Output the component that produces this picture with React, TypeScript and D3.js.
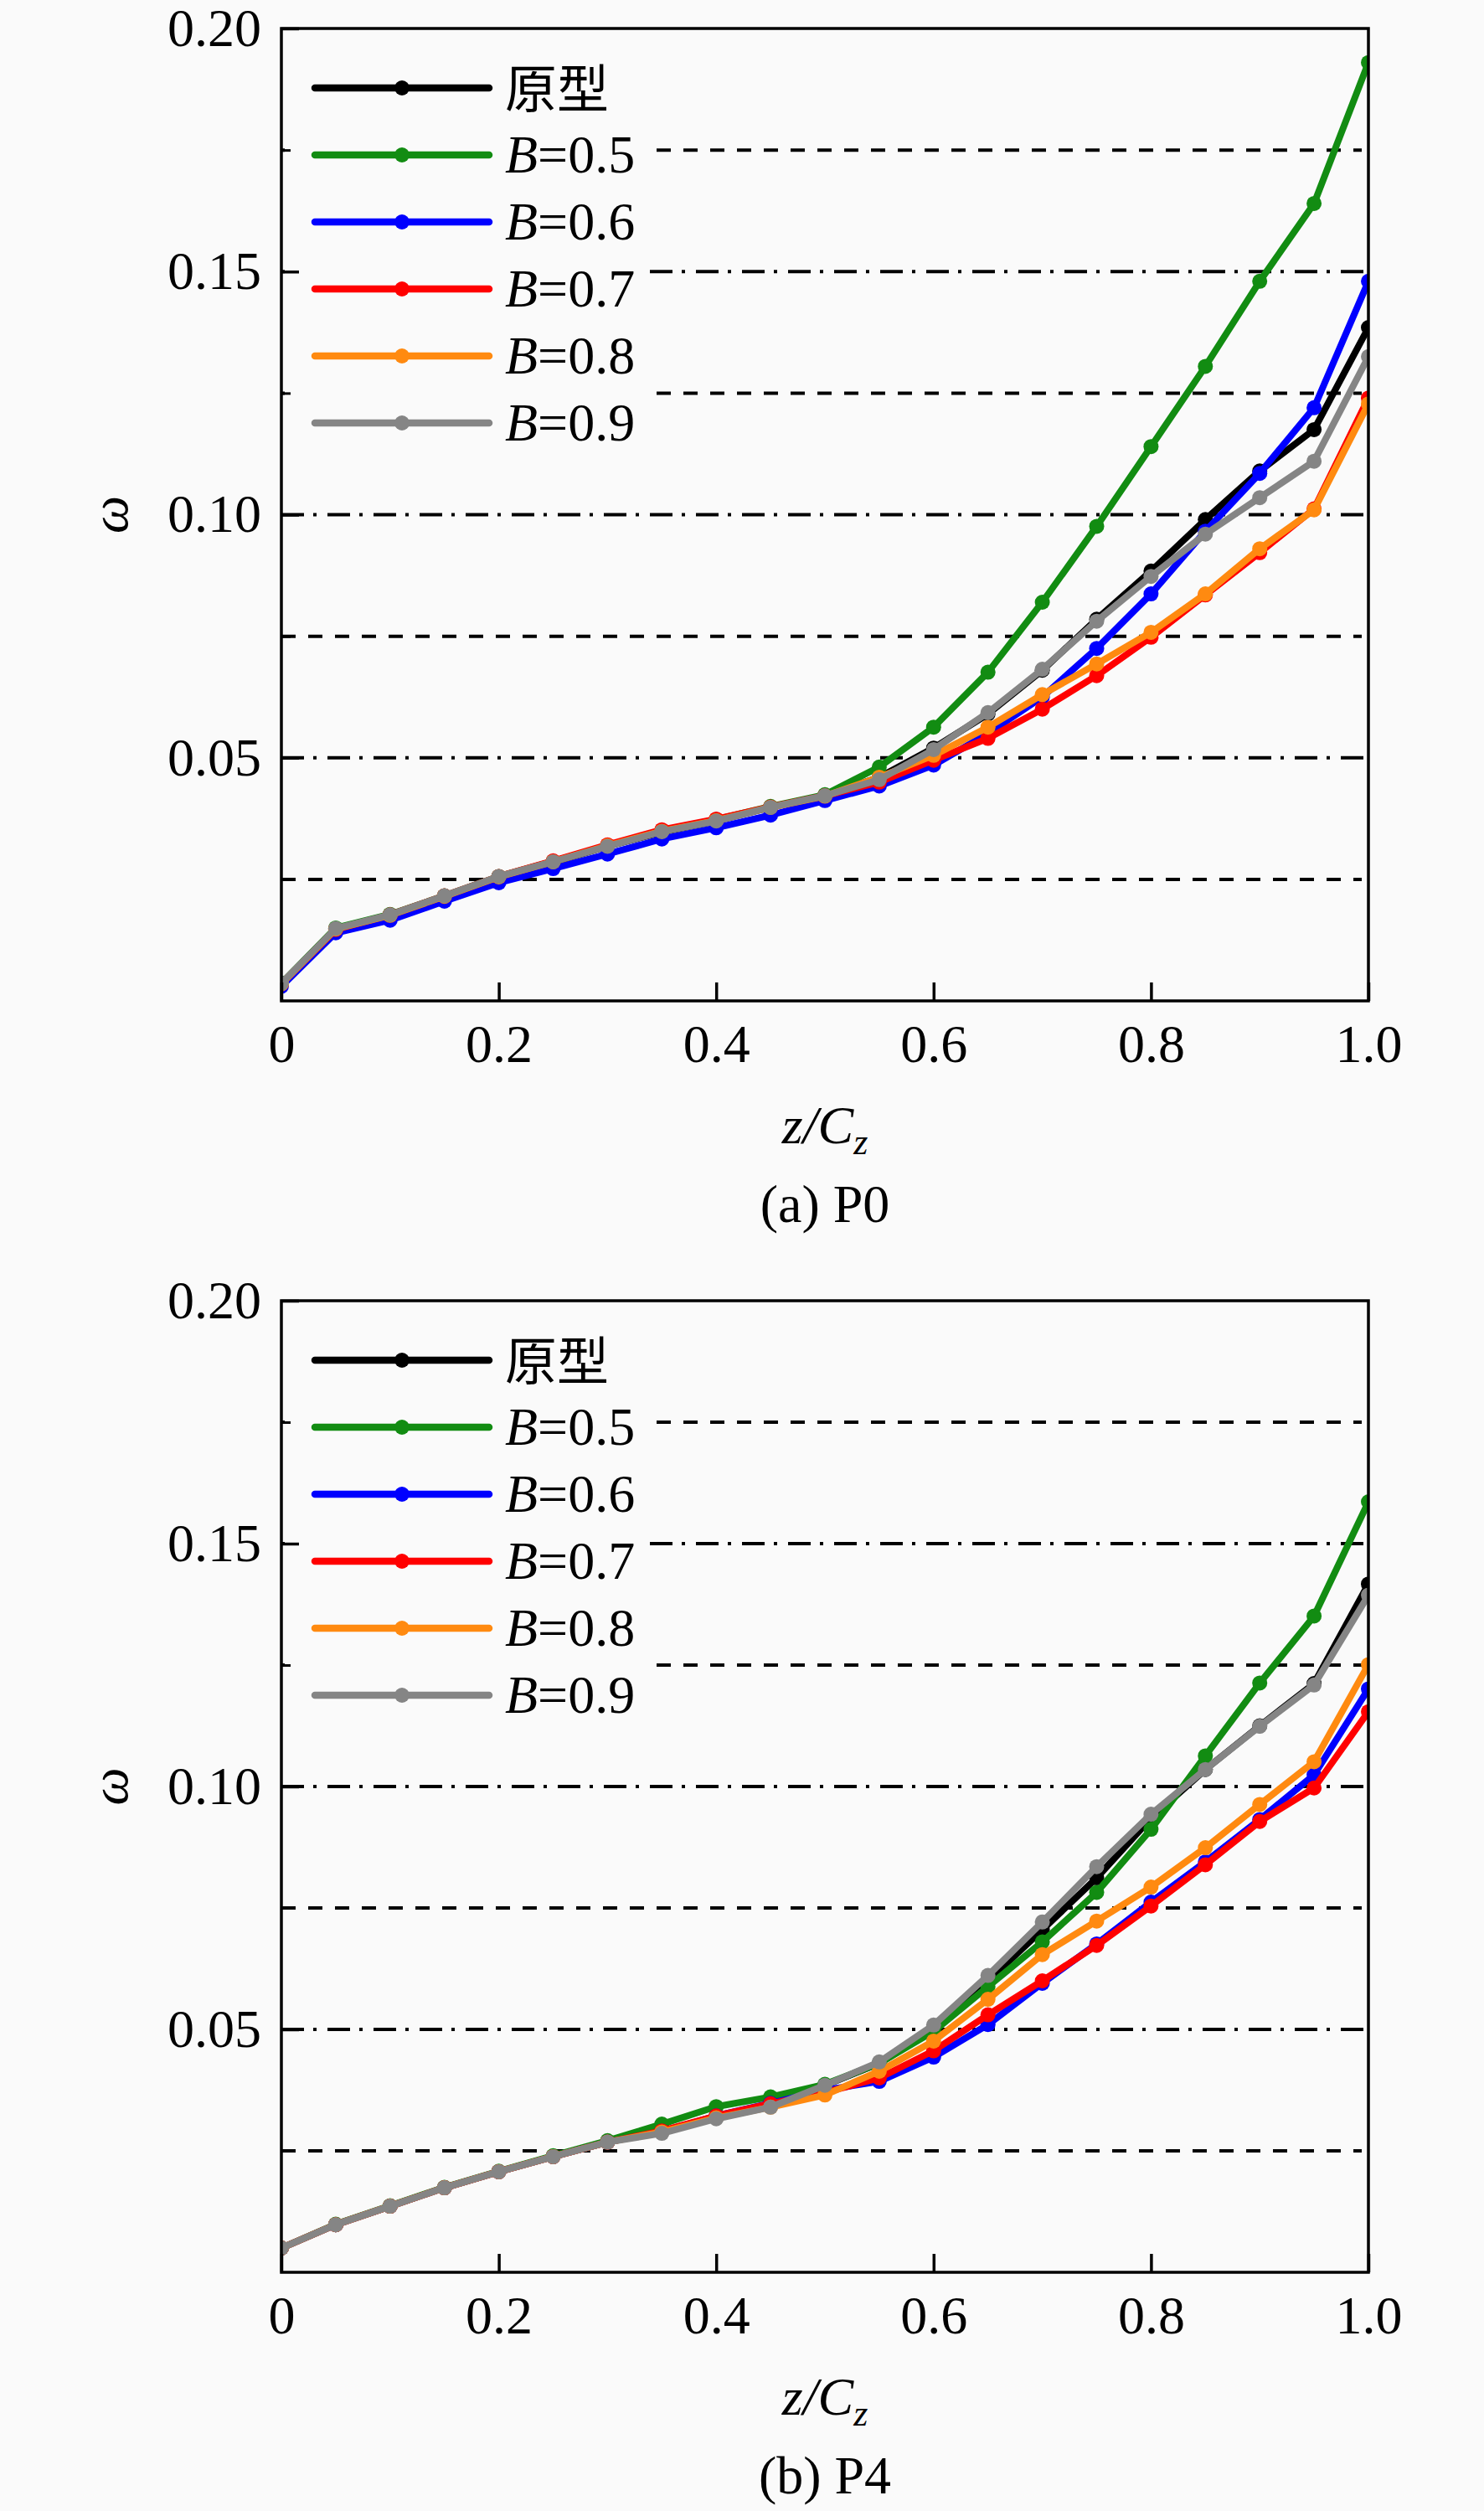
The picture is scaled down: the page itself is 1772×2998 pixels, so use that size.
import { useEffect, useRef } from 'react';
import * as d3 from 'd3';

// z/Cz positions (shared by every series)
const zc = [0, 0.05, 0.1, 0.15, 0.2, 0.25, 0.3, 0.35, 0.4, 0.45, 0.5, 0.55, 0.6, 0.65, 0.7, 0.75, 0.8, 0.85, 0.9, 0.95, 1.0];

const seriesNames = ['原型', 'B=0.5', 'B=0.6', 'B=0.7', 'B=0.8', 'B=0.9'];
const seriesColors = ['#000000', '#128c12', '#0000ff', '#ff0000', '#ff8a10', '#858585'];

// (a) P0
const p0Proto = [0.0036, 0.0148, 0.0177, 0.0215, 0.0255, 0.0285, 0.0318, 0.0347, 0.0370, 0.0398, 0.0422, 0.0460, 0.0520, 0.0590, 0.0680, 0.0785, 0.0884, 0.0990, 0.1090, 0.1175, 0.1385];
const p0B05 = [0.0036, 0.0150, 0.0178, 0.0216, 0.0256, 0.0287, 0.0320, 0.0350, 0.0373, 0.0400, 0.0424, 0.0481, 0.0563, 0.0676, 0.0820, 0.0976, 0.1140, 0.1305, 0.1480, 0.1640, 0.1930];
const p0B06 = [0.0030, 0.0140, 0.0166, 0.0205, 0.0243, 0.0272, 0.0302, 0.0333, 0.0356, 0.0382, 0.0412, 0.0442, 0.0485, 0.0550, 0.0625, 0.0725, 0.0837, 0.0966, 0.1085, 0.1220, 0.1480];
const p0B07 = [0.0035, 0.0147, 0.0177, 0.0216, 0.0256, 0.0288, 0.0321, 0.0352, 0.0374, 0.0399, 0.0422, 0.0450, 0.0495, 0.0540, 0.0600, 0.0669, 0.0748, 0.0835, 0.0922, 0.1012, 0.1240];
const p0B08 = [0.0035, 0.0148, 0.0176, 0.0215, 0.0255, 0.0286, 0.0319, 0.0349, 0.0371, 0.0398, 0.0421, 0.0460, 0.0505, 0.0563, 0.0630, 0.0693, 0.0758, 0.0837, 0.0930, 0.1010, 0.1228];
const p0B09 = [0.0036, 0.0149, 0.0177, 0.0216, 0.0256, 0.0286, 0.0318, 0.0348, 0.0370, 0.0398, 0.0422, 0.0455, 0.0517, 0.0593, 0.0682, 0.0781, 0.0873, 0.0960, 0.1035, 0.1110, 0.1325];

// (b) P4
const p4Proto = [0.0050, 0.0098, 0.0136, 0.0174, 0.0207, 0.0238, 0.0268, 0.0290, 0.0320, 0.0345, 0.0385, 0.0430, 0.0500, 0.0600, 0.0705, 0.0812, 0.0935, 0.1035, 0.1125, 0.1212, 0.1417];
const p4B05 = [0.0050, 0.0099, 0.0137, 0.0175, 0.0208, 0.0240, 0.0271, 0.0305, 0.0341, 0.0361, 0.0387, 0.0430, 0.0496, 0.0588, 0.0680, 0.0782, 0.0912, 0.1063, 0.1213, 0.1351, 0.1586];
const p4B06 = [0.0050, 0.0098, 0.0136, 0.0174, 0.0207, 0.0238, 0.0268, 0.0290, 0.0322, 0.0348, 0.0375, 0.0393, 0.0443, 0.0510, 0.0595, 0.0676, 0.0762, 0.0845, 0.0932, 0.1024, 0.1201];
const p4B07 = [0.0050, 0.0098, 0.0136, 0.0174, 0.0207, 0.0238, 0.0268, 0.0291, 0.0322, 0.0347, 0.0370, 0.0400, 0.0456, 0.0530, 0.0600, 0.0673, 0.0754, 0.0839, 0.0928, 0.0997, 0.1154];
const p4B08 = [0.0050, 0.0098, 0.0136, 0.0174, 0.0207, 0.0238, 0.0268, 0.0289, 0.0318, 0.0340, 0.0365, 0.0414, 0.0476, 0.0562, 0.0654, 0.0723, 0.0793, 0.0874, 0.0963, 0.1051, 0.1251];
const p4B09 = [0.0050, 0.0098, 0.0136, 0.0174, 0.0207, 0.0238, 0.0268, 0.0286, 0.0316, 0.0340, 0.0385, 0.0433, 0.0509, 0.0611, 0.0721, 0.0835, 0.0943, 0.1035, 0.1124, 0.1209, 0.1394];

const xTicks = [0, 0.2, 0.4, 0.6, 0.8, 1.0];
const yMajorTicks = [0.05, 0.1, 0.15, 0.2];
const yMinorTicks = [0.025, 0.075, 0.125, 0.175];

const panels = [
  { id: 'p0', caption: '(a) P0', top: 34, bottom: 1195, series: [p0Proto, p0B05, p0B06, p0B07, p0B08, p0B09] },
  { id: 'p4', caption: '(b) P4', top: 1553, bottom: 2713, series: [p4Proto, p4B05, p4B06, p4B07, p4B08, p4B09] },
];

const W = 1772;
const H = 2998;
const LEFT = 336;
const RIGHT = 1634;
const FONT = '"Liberation Serif", "Times New Roman", "Noto Sans CJK SC", serif';
const BG = '#fafafa';

export default function App() {
  const svgRef = useRef<SVGSVGElement>(null);

  useEffect(() => {
    if (!svgRef.current) return;
    const svg = d3.select(svgRef.current);
    svg.selectAll('*').remove();

    svg.append('rect').attr('width', W).attr('height', H).attr('fill', BG);

    const x = d3.scaleLinear().domain([0, 1]).range([LEFT, RIGHT]);

    panels.forEach(p => {
      const y = d3.scaleLinear().domain([0, 0.2]).range([p.bottom, p.top]);
      const g = svg.append('g');

      // clip for plot area
      g.append('clipPath').attr('id', `clip-${p.id}`)
        .append('rect')
        .attr('x', LEFT).attr('y', p.top)
        .attr('width', RIGHT - LEFT).attr('height', p.bottom - p.top);

      // grid: dashed at minor values, dash-dot at major values
      g.append('g').selectAll('line')
        .data(yMinorTicks)
        .enter().append('line')
        .attr('x1', LEFT).attr('x2', RIGHT - 8)
        .attr('y1', d => y(d)).attr('y2', d => y(d))
        .attr('stroke', '#000').attr('stroke-width', 4)
        .attr('stroke-dasharray', '17,15');

      g.append('g').selectAll('line')
        .data(yMajorTicks.filter(d => d < 0.2))
        .enter().append('line')
        .attr('x1', LEFT).attr('x2', RIGHT)
        .attr('y1', d => y(d)).attr('y2', d => y(d))
        .attr('stroke', '#000').attr('stroke-width', 4)
        .attr('stroke-dasharray', '27,11,4,13');

      // series
      const line = d3.line<number>()
        .x((_, i) => x(zc[i]))
        .y(d => y(d));

      const plot = g.append('g').attr('clip-path', `url(#clip-${p.id})`);
      p.series.forEach((vals, si) => {
        const sg = plot.append('g');
        sg.append('path')
          .datum(vals)
          .attr('d', line)
          .attr('fill', 'none')
          .attr('stroke', seriesColors[si])
          .attr('stroke-width', 8)
          .attr('stroke-linejoin', 'round');
        sg.selectAll('circle')
          .data(vals)
          .enter().append('circle')
          .attr('cx', (_, i) => x(zc[i]))
          .attr('cy', d => y(d))
          .attr('r', 9)
          .attr('fill', seriesColors[si]);
      });

      // legend
      const legTop = p.top + 71;
      const legStep = 80;
      g.append('rect')
        .attr('x', LEFT + 4).attr('y', legTop - 42)
        .attr('width', 772 - LEFT - 4)
        .attr('height', legStep * (seriesNames.length - 1) + 86)
        .attr('fill', BG);

      const items = g.append('g').selectAll('g')
        .data(seriesNames)
        .enter().append('g')
        .attr('transform', (_, i) => `translate(0,${legTop + i * legStep})`);

      items.append('line')
        .attr('x1', 376).attr('x2', 584)
        .attr('stroke', (_, i) => seriesColors[i])
        .attr('stroke-width', 8.5)
        .attr('stroke-linecap', 'round');
      items.append('circle')
        .attr('cx', 480).attr('r', 9)
        .attr('fill', (_, i) => seriesColors[i]);

      const txt = items.append('text')
        .attr('x', 603).attr('y', 21)
        .attr('font-family', FONT)
        .attr('font-size', 64)
        .attr('fill', '#000');
      txt.each(function (d) {
        const t = d3.select(this);
        if (d.startsWith('B=')) {
          t.append('tspan').attr('font-style', 'italic').text('B');
          t.append('tspan').text(d.slice(1));
        } else {
          t.attr('y', 24).attr('font-size', 62).text(d);
        }
      });

      // frame
      g.append('rect')
        .attr('x', LEFT).attr('y', p.top)
        .attr('width', RIGHT - LEFT).attr('height', p.bottom - p.top)
        .attr('fill', 'none').attr('stroke', '#000').attr('stroke-width', 3.5);

      // y axis (inward ticks)
      const yAxis = g.append('g')
        .attr('transform', `translate(${LEFT},0)`)
        .call(d3.axisLeft(y).tickValues(yMajorTicks).tickSize(-21).tickPadding(24).tickFormat(d3.format('.2f')));
      g.append('g')
        .attr('transform', `translate(${LEFT},0)`)
        .call(d3.axisLeft(y).tickValues(yMinorTicks).tickSize(-11).tickFormat(() => ''))
        .call(a => a.select('.domain').remove())
        .selectAll('line').attr('stroke-width', 3);
      yAxis.select('.domain').remove();
      yAxis.selectAll('line').attr('stroke-width', 3.5);
      yAxis.selectAll('text')
        .attr('font-family', FONT).attr('font-size', 64).attr('fill', '#000');

      // x axis (inward ticks)
      const xAxis = g.append('g')
        .attr('transform', `translate(0,${p.bottom})`)
        .call(d3.axisBottom(x).tickValues(xTicks).tickSize(-22).tickPadding(28)
          .tickFormat(d => (+d === 0 ? '0' : d3.format('.1f')(+d))));
      xAxis.select('.domain').remove();
      xAxis.selectAll('line').attr('stroke-width', 3.5);
      xAxis.selectAll('text')
        .attr('font-family', FONT).attr('font-size', 64).attr('fill', '#000');

      // axis titles
      g.append('text')
        .attr('transform', `translate(130,${(p.top + p.bottom) / 2}) rotate(-90)`)
        .attr('text-anchor', 'middle')
        .attr('dominant-baseline', 'central')
        .attr('font-family', FONT).attr('font-size', 64).attr('font-style', 'italic')
        .text('ω');

      const xt = g.append('text')
        .attr('x', (LEFT + RIGHT) / 2).attr('y', p.bottom + 170)
        .attr('text-anchor', 'middle')
        .attr('font-family', FONT).attr('font-size', 64).attr('font-style', 'italic');
      xt.append('tspan').text('z/C');
      xt.append('tspan').attr('font-size', 44).attr('dy', 13).text('z');

      g.append('text')
        .attr('x', (LEFT + RIGHT) / 2).attr('y', p.bottom + 264)
        .attr('text-anchor', 'middle')
        .attr('font-family', FONT).attr('font-size', 64)
        .text(p.caption);
    });
  }, []);

  return (
    <div>
      <style>{`body{margin:0;background:${BG};}`}</style>
      <svg ref={svgRef} width={W} height={H} style={{ display: 'block' }} />
    </div>
  );
}
